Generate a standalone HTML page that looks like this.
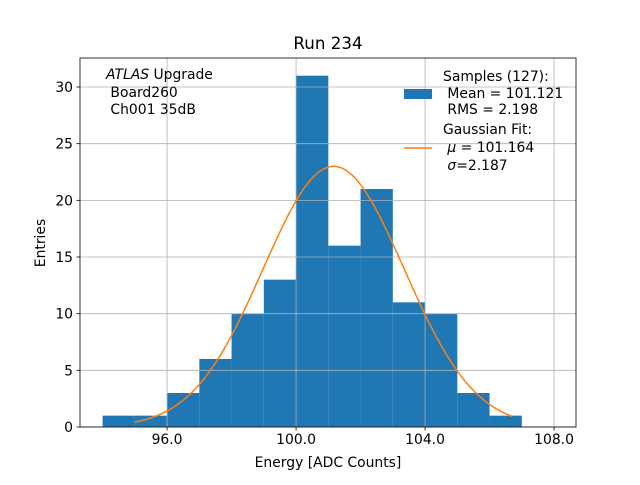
<!DOCTYPE html>
<html><head><meta charset="utf-8"><style>
body{margin:0;background:#fff}
text{font-family:"DejaVu Sans","Liberation Sans",sans-serif;fill:#000;white-space:pre}
</style></head><body>
<svg id="chart" width="640" height="480" viewBox="0 0 640 480" xmlns="http://www.w3.org/2000/svg">
<rect width="640" height="480" fill="#fff"/>
<g id="bars"></g>
<g id="grid"></g>
<g id="curve"></g>
<g id="axes"></g>
<text x="328" y="49" font-size="16.7" text-anchor="middle">Run 234</text>
<text x="328" y="467" font-size="13.9" text-anchor="middle">Energy [ADC Counts]</text>
<text transform="translate(45,243) rotate(-90)" font-size="13.9" text-anchor="middle">Entries</text>
<g font-size="13.9">
<text x="106" y="79"><tspan font-style="italic">ATLAS</tspan> Upgrade</text>
<text x="106" y="97">&#160;Board260</text>
<text x="106" y="114">&#160;Ch001 35dB</text>
</g>
<g font-size="13.9">
<rect x="404" y="89" width="28" height="10" fill="#1f77b4"/>
<text x="443" y="81">Samples (127):</text>
<text x="443" y="98">&#160;Mean = 101.121</text>
<text x="443" y="114">&#160;RMS = 2.198</text>
<line x1="404" y1="148" x2="432" y2="148" stroke="#ff7f0e" stroke-width="1.5"/>
<text x="443" y="134">Gaussian Fit:</text>
<text x="443" y="152">&#160;<tspan font-style="italic">μ</tspan> = 101.164</text>
<text x="443" y="170">&#160;<tspan font-style="italic">σ</tspan>=2.187</text>
</g>
</svg>
<script>
const binEdges=[94,95,96,97,98,99,100,101,102,103,104,105,106,107];
const counts=[1,1,3,6,10,13,31,16,21,11,10,3,1];
const xTicks=[96,100,104,108];
const xTickLabels=["96.0","100.0","104.0","108.0"];
const yTicks=[0,5,10,15,20,25,30];
const fitAmp=[23.0];
const fitMu=[101.164];
const fitSigma=[2.187];
const fitRange=[95.0,106.7];
const L=80,R=576,T=58,B=427,xMin=93.3,xMax=108.68,yMin=0,yMax=32.56;
const sx=v=>L+(v-xMin)/(xMax-xMin)*(R-L);
const sy=v=>B-(v-yMin)/(yMax-yMin)*(B-T);
const NS="http://www.w3.org/2000/svg";
function mk(tag,parent,attrs){const e=document.createElementNS(NS,tag);for(const k in attrs)e.setAttribute(k,attrs[k]);parent.appendChild(e);return e;}
const bars=document.getElementById('bars');
counts.forEach((c,i)=>{
 const r=mk('rect',bars,{x:sx(binEdges[i]),y:sy(c),width:sx(binEdges[i+1])-sx(binEdges[i]),height:sy(0)-sy(c),fill:'#1f77b4'});
 
 
});
const grid=document.getElementById('grid');
xTicks.forEach(t=>{const l=mk('line',grid,{x1:sx(t),x2:sx(t),y1:T,y2:B,stroke:'#b0b0b0','stroke-width':0.8});
 
 });
yTicks.forEach(t=>{const l=mk('line',grid,{x1:L,x2:R,y1:sy(t),y2:sy(t),stroke:'#b0b0b0','stroke-width':0.8});
 
 });
const curve=document.getElementById('curve');
let d='';
for(let i=0;i<=200;i++){const x=fitRange[0]+(fitRange[1]-fitRange[0])*i/200;
 const y=fitAmp[0]*Math.exp(-((x-fitMu[0])**2)/(2*fitSigma[0]**2));
 d+=(i?'L':'M')+sx(x).toFixed(2)+','+sy(y).toFixed(2);}
const p=mk('path',curve,{d:d,fill:'none',stroke:'#ff7f0e','stroke-width':1.5});


const axes=document.getElementById('axes');
const fr=mk('rect',axes,{x:L,y:T,width:R-L,height:B-T,fill:'none',stroke:'#000','stroke-width':0.8});


xTicks.forEach((t,i)=>{mk('line',axes,{x1:sx(t),x2:sx(t),y1:B,y2:B+3.5,stroke:'#000','stroke-width':0.8});
 const tx=mk('text',axes,{x:sx(t),y:B+17,'font-size':13.9,'text-anchor':'middle'});tx.textContent=xTickLabels[i];
 
 });
yTicks.forEach(t=>{mk('line',axes,{x1:L-3.5,x2:L,y1:sy(t),y2:sy(t),stroke:'#000','stroke-width':0.8});
 const tx=mk('text',axes,{x:L-7,y:sy(t)+5,'font-size':13.9,'text-anchor':'end'});tx.textContent=t;
 
 });
</script>
</body></html>
